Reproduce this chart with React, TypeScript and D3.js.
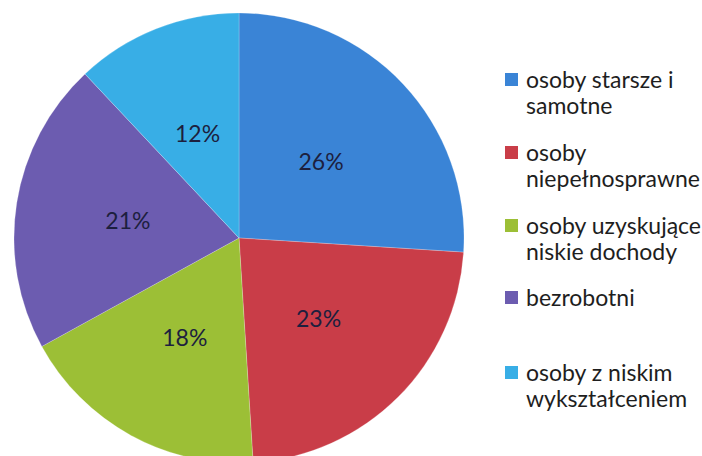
import React, { useEffect, useRef } from "react";
import * as d3 from "d3";

const categories = [
  "osoby starsze i samotne",
  "osoby niepełnosprawne",
  "osoby uzyskujące niskie dochody",
  "bezrobotni",
  "osoby z niskim wykształceniem",
];
const values = [26, 23, 18, 21, 12];
const legendLines = [
  ["osoby starsze i", "samotne"],
  ["osoby", "niepełnosprawne"],
  ["osoby uzyskujące", "niskie dochody"],
  ["bezrobotni"],
  ["osoby z niskim", "wykształceniem"],
];
const colors = ["#3a84d6", "#c93d48", "#9cbf36", "#6c5cb0", "#38aee6"];

const App = () => {
  const ref = useRef<SVGSVGElement>(null);
  const width = 702;
  const height = 456;
  const cx = 239;
  const cy = 238;
  const radius = 225;
  const FONT = "Lato, 'Open Sans', sans-serif";

  useEffect(() => {
    const svg = d3.select(ref.current);
    svg.selectAll("*").remove();

    svg.append("rect").attr("width", width).attr("height", height).attr("fill", "#fff");

    const g = svg.append("g").attr("transform", `translate(${cx},${cy})`);
    const pie = d3.pie<number>().sort(null).value((d) => d);
    const arcs = pie(values);
    const arc = d3.arc<d3.PieArcDatum<number>>().innerRadius(0).outerRadius(radius);
    const labelArc = d3.arc<d3.PieArcDatum<number>>().innerRadius(0).outerRadius(radius);

    g.selectAll("path.slice")
      .data(arcs)
      .join("path")
      .attr("class", "slice")
      .attr("d", arc)
      .attr("fill", (_, i) => colors[i])
      .attr("stroke", "rgba(255,255,255,0.35)")
      .attr("stroke-width", 0.6);

    g.selectAll("text.lbl")
      .data(arcs)
      .join("text")
      .attr("class", "lbl")
      .attr("transform", (d) => `translate(${labelArc.centroid(d)})`)
      .attr("text-anchor", "middle")
      .attr("dominant-baseline", "central")
      .attr("fill", "#1d1f3e")
      .style("font-family", FONT)
      .style("font-size", "23px")
      .text((d) => `${d.data}%`);

    // legend
    const lineY = [79, 152, 225, 297, 372];
    const leg = svg.append("g");
    categories.forEach((c, i) => {
      const y0 = lineY[i];
      leg.append("rect")
        .attr("x", 505)
        .attr("y", y0 - 6)
        .attr("width", 13)
        .attr("height", 13)
        .attr("fill", colors[i]);
      legendLines[i].forEach((t, j) => {
        leg.append("text")
          .attr("x", 526)
          .attr("y", y0 + j * 26)
          .attr("dominant-baseline", "central")
          .attr("fill", "#1e1e1e")
          .style("font-family", FONT)
          .style("font-size", "23px")
          .text(t);
      });
    });
  }, []);

  return (
    <svg
      ref={ref}
      width={width}
      height={height}
      style={{ position: "absolute", left: 0, top: 0 }}
    ></svg>
  );
};

export default App;
